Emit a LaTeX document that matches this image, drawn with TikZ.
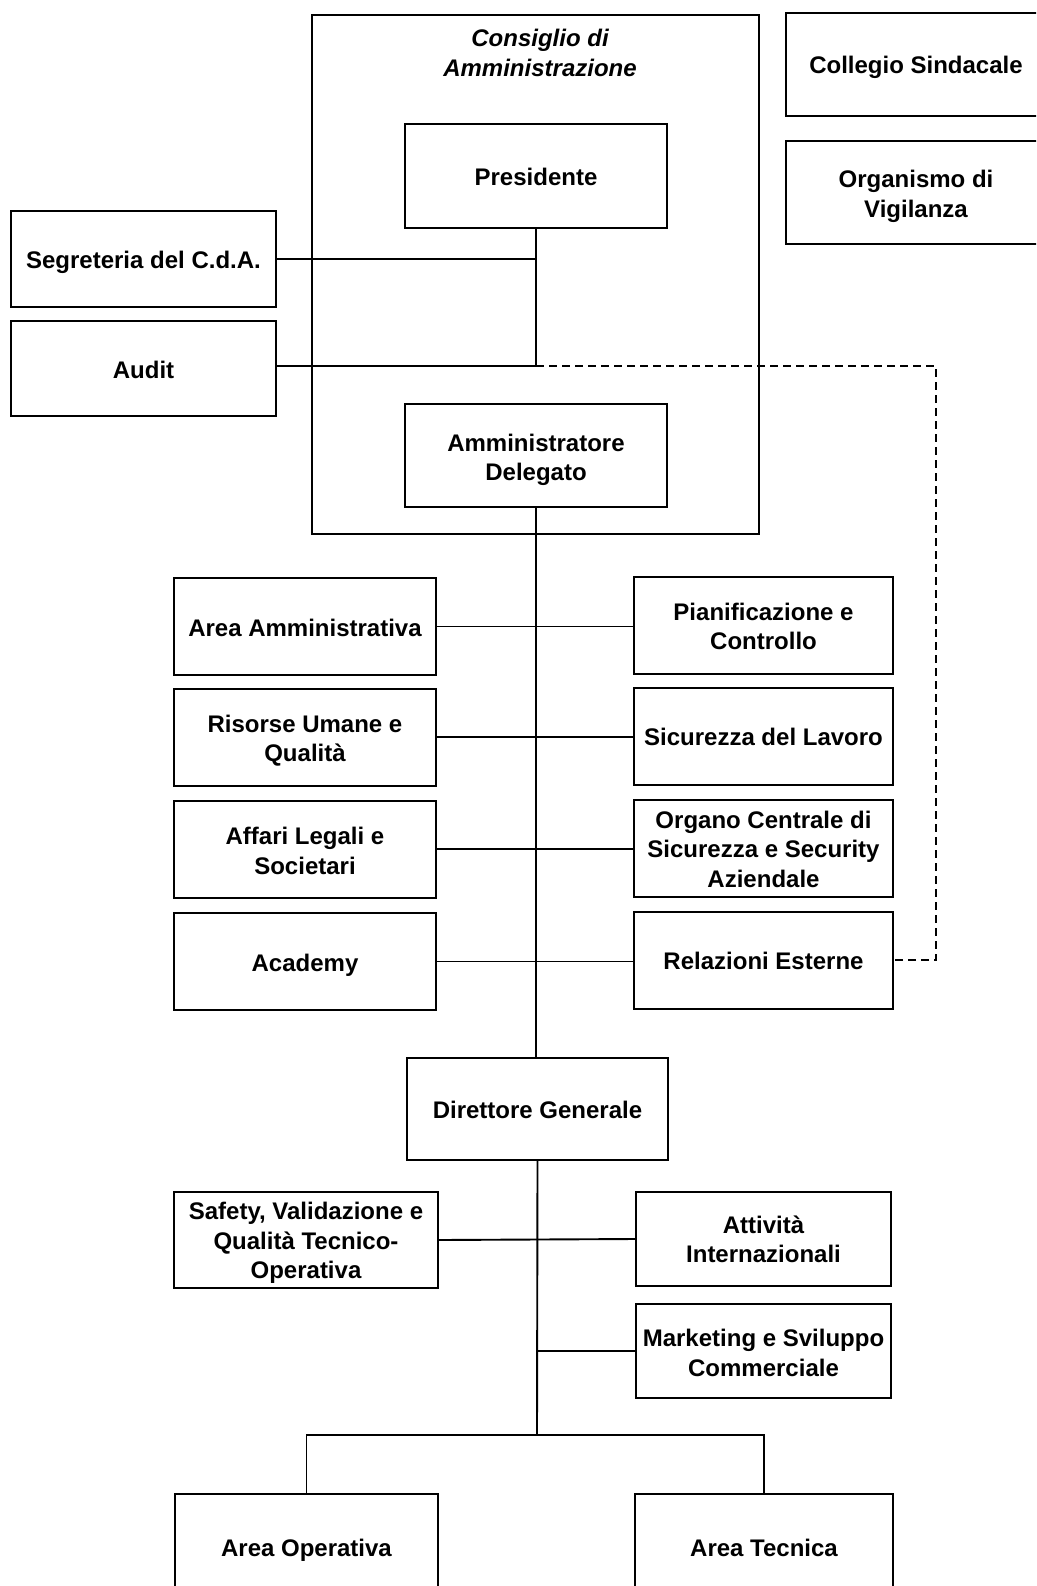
\documentclass[tikz,border=0pt]{standalone}
\usepackage{fontspec}
\setmainfont{Liberation Sans}
\newcommand{\hgt}[1]{\rule{0pt}{#1pt}}
\begin{document}
\begin{tikzpicture}[x=1pt,y=-1pt,
  box/.style={draw, line width=2pt, align=center, font=\fontsize{24}{29.5}\selectfont\bfseries, inner sep=2pt},
  oneline/.style={text height=19pt, text depth=0pt},
  conn/.style={line width=1.9pt},
  dconn/.style={line width=2pt, dash pattern=on 8pt off 5pt}]
\clip (0,0) rectangle (1036,1586);
% Consiglio container
\node[draw, line width=2pt, minimum width=447, minimum height=519, anchor=north west] (cda) at (311,14) {};
\node[font=\fontsize{24}{29.5}\selectfont\bfseries\itshape, align=center] (cdatitle) at (540,53) {Consiglio di\\Amministrazione};
% Right top boxes
\node[box, oneline, minimum width=260, minimum height=103] (col) at (916,64.5) {Collegio Sindacale};
\node[box, minimum width=260, minimum height=103] (odv) at (916,192.5) {\hgt{25.5}Organismo di\\Vigilanza};
% Board area
\node[box, oneline, minimum width=262, minimum height=104] (pres) at (536,176) {Presidente};
\node[box, oneline, minimum width=265, minimum height=96] (seg) at (143.5,259) {Segreteria del C.d.A.};
\node[box, oneline, minimum width=265, minimum height=95] (aud) at (143.5,368.5) {Audit};
\node[box, minimum width=262, minimum height=103] (ad) at (536,455.5) {\hgt{26.5}Amministratore\\Delegato};
% Staff rows
\node[box, oneline, minimum width=262, minimum height=97] (l1) at (305,626.5) {Area Amministrativa};
\node[box, minimum width=259, minimum height=97] (r1) at (763.5,625.5) {\hgt{19.5}Pianificazione e\\Controllo};
\node[box, minimum width=262, minimum height=97] (l2) at (305,737) {\hgt{25}Risorse Umane e\\Qualità};
\node[box, oneline, minimum width=259, minimum height=97] (r2) at (763.5,736) {Sicurezza del Lavoro};
\node[box, minimum width=262, minimum height=97] (l3) at (305,849) {\hgt{21.5}Affari Legali e\\Societari};
\node[box, minimum width=259, minimum height=97] (r3) at (763.5,848) {\hgt{19.5}Organo Centrale di\\Sicurezza e Security\\Aziendale};
\node[box, oneline, minimum width=262, minimum height=97] (l4) at (305,961.5) {Academy};
\node[box, oneline, minimum width=259, minimum height=97] (r4) at (763.5,960) {Relazioni Esterne};
% Direttore
\node[box, oneline, minimum width=261, minimum height=102] (dg) at (537.5,1109) {Direttore Generale};
\node[box, minimum width=264, minimum height=96] (saf) at (306,1240) {\hgt{23.5}Safety, Validazione e\\Qualità Tecnico-\\Operativa};
\node[box, minimum width=255, minimum height=94] (att) at (763.5,1239) {\hgt{18.5}Attività\\Internazionali};
\node[box, minimum width=255, minimum height=94] (mkt) at (763.5,1351) {\hgt{21.5}Marketing e Sviluppo\\Commerciale};
\node[box, oneline, minimum width=263, minimum height=106, anchor=north] (aop) at (306.5,1493) {Area Operativa};
\node[box, oneline, minimum width=258, minimum height=106, anchor=north] (ate) at (764,1493) {Area Tecnica};
% Connectors
\coordinate (j1) at (536,366);
\coordinate (jseg) at (pres.south |- seg.east);
\draw[conn] (pres.south) -- (j1);
\draw[conn] (seg.east) -- (jseg);
\draw[conn] (aud.east |- j1) -- (j1);
\coordinate (dcorner) at (936,366);
\draw[dconn] (j1) -- (dcorner) -- (dcorner |- r4.east) -- (r4.east);
\draw[conn] (ad.south) -- (ad.south |- dg.north);
\draw[conn] (l1.east) -- (r1.west |- l1.east);
\draw[conn] (l2.east) -- (r2.west |- l2.east);
\draw[conn] (l3.east) -- (r3.west |- l3.east);
\draw[conn] (l4.east) -- (r4.west |- l4.east);
\coordinate (bus) at (537,1435);
\draw[conn] (dg.south) -- (bus);
\draw[conn] (saf.east) -- (att.west);
\draw[conn] (mkt.west) -- (bus |- mkt.west);
\draw[conn] (aop.north) -- (aop.north |- bus) -- (ate.north |- bus) -- (ate.north);
\end{tikzpicture}
\end{document}
